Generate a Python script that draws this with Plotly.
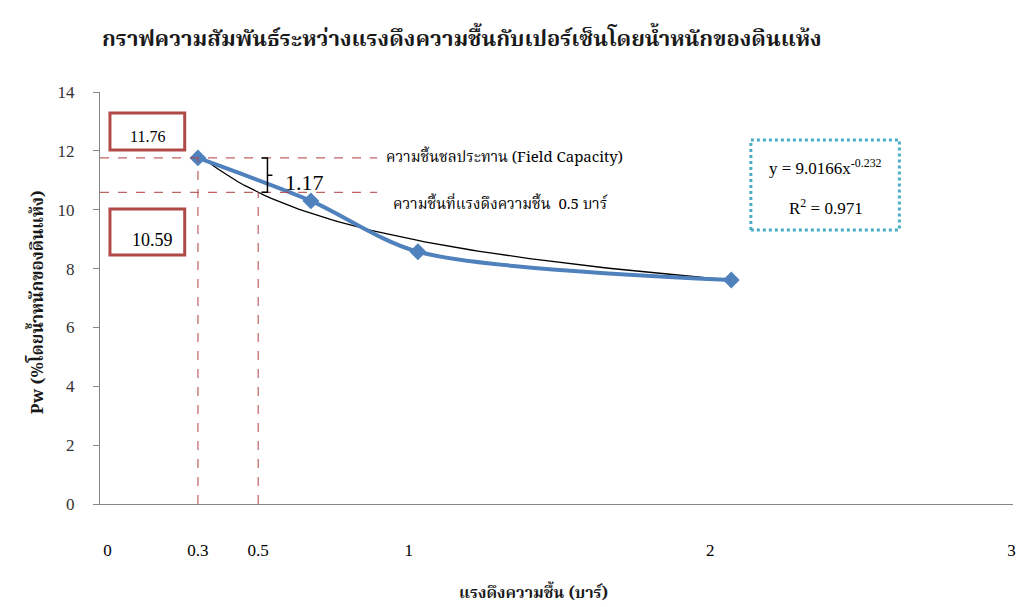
import plotly.graph_objects as go

# ---- data ----
suction_bar = [0.3, 0.675, 1.03, 2.07]
moisture_pw = [11.76, 10.30, 8.57, 7.61]
trend_a = 9.0166
trend_b = -0.232
r2 = 0.971
fc_value = 11.76
half_bar_value = 10.59
diff_value = 1.17
x_tickvals = [0, 0.3, 0.5, 1, 2, 3]
x_ticktext = ["0", "0.3", "0.5", "1", "2", "3"]
y_tickvals = [0, 2, 4, 6, 8, 10, 12, 14]

title = "กราฟความสัมพันธ์ระหว่างแรงดึงความชื้นกับเปอร์เซ็นโดยน้ำหนักของดินแห้ง"
x_title = "แรงดึงความชื้น (บาร์)"
y_title = "Pw (%โดยน้ำหนักของดินแห้ง)"
label_fc = "ความชื้นชลประทาน (Field Capacity)"
label_half = "ความชื้นที่แรงดึงความชื้น  0.5 บาร์"

# trendline from stated equation
tx = [suction_bar[0] + i * (suction_bar[-1] - suction_bar[0]) / 80 for i in range(81)]
ty = [trend_a * v ** trend_b for v in tx]

THAI_SERIF = "Noto Serif Thai, Liberation Serif, Noto Sans Thai, serif"
SERIF = "Liberation Serif, Times New Roman, serif"
RED = "rgba(180,70,70,0.85)"

fig = go.Figure()
fig.add_trace(go.Scatter(x=tx, y=ty, mode="lines",
                         line=dict(color="black", width=1.3), hoverinfo="skip"))
fig.add_trace(go.Scatter(x=suction_bar, y=moisture_pw, mode="lines+markers",
                         line=dict(color="#4f81bd", width=4, shape="spline", smoothing=0.8),
                         marker=dict(symbol="diamond", size=13, color="#4f81bd")))

# mapping helpers (pixel -> data) for annotation placement
XMIN, XMAX = -0.025, 3.005
X0PX = 100 - XMIN * (916 / (XMAX - XMIN))
XSC = 916 / (XMAX - XMIN)
Y0PX, YSC = 504.0, 412 / 14
def dx(p):
    return (p - X0PX) / XSC
def dy(p):
    return (Y0PX - p) / YSC

shapes = []
# dashed guide lines
shapes.append(dict(type="line", x0=XMIN, x1=dx(378), y0=fc_value, y1=fc_value,
                   line=dict(color=RED, width=1.2, dash="dash")))
shapes.append(dict(type="line", x0=XMIN, x1=dx(378), y0=half_bar_value, y1=half_bar_value,
                   line=dict(color=RED, width=1.2, dash="dash")))
shapes.append(dict(type="line", x0=0.3, x1=0.3, y0=0, y1=fc_value,
                   line=dict(color=RED, width=1.2, dash="dash")))
shapes.append(dict(type="line", x0=0.5, x1=0.5, y0=0, y1=half_bar_value,
                   line=dict(color=RED, width=1.2, dash="dash")))
# value boxes
shapes.append(dict(type="rect", x0=dx(110), x1=dx(185), y0=dy(150), y1=dy(113),
                   line=dict(color="#b04a48", width=3), fillcolor="white"))
shapes.append(dict(type="rect", x0=dx(110), x1=dx(185), y0=dy(255), y1=dy(209),
                   line=dict(color="#b04a48", width=3), fillcolor="white"))
# equation box
shapes.append(dict(type="rect", x0=dx(753), x1=dx(902), y0=dy(230), y1=dy(140),
                   line=dict(color="#4bacc6", width=3, dash="dot"), fillcolor="white"))
# bracket
xb1, xb2, xb3 = dx(262), dx(268), dx(273)
mid = (fc_value + half_bar_value) / 2
shapes.append(dict(type="path",
                   path=f"M {xb1} {fc_value} L {xb2} {fc_value} L {xb2} {half_bar_value} L {xb1} {half_bar_value} "
                        f"M {xb2} {mid} L {xb3} {mid}",
                   line=dict(color="black", width=1.5)))

ann = []
ann.append(dict(x=dx(148), y=dy(136), text=f"{fc_value:.2f}", showarrow=False,
                font=dict(family=SERIF, size=16, color="black")))
ann.append(dict(x=dx(153), y=dy(240), text=f"{half_bar_value:.2f}", showarrow=False,
                font=dict(family=SERIF, size=18, color="black")))
ann.append(dict(x=dx(284), y=dy(182), text=f"{diff_value:.2f}", showarrow=False, xanchor="left",
                font=dict(family=SERIF, size=22, color="black")))
ann.append(dict(x=dx(385), y=dy(158), text=label_fc, showarrow=False, xanchor="left",
                font=dict(family=THAI_SERIF, size=15, color="black")))
ann.append(dict(x=dx(392), y=dy(205), text=label_half, showarrow=False, xanchor="left",
                font=dict(family=THAI_SERIF, size=15, color="black")))
ann.append(dict(x=dx(828), y=dy(167), text=f"y = {trend_a}x<sup>{trend_b}</sup>", showarrow=False,
                font=dict(family=SERIF, size=17, color="black")))
ann.append(dict(x=dx(828), y=dy(207), text=f"R<sup>2</sup> = {r2}", showarrow=False,
                font=dict(family=SERIF, size=17, color="black")))
# titles
ann.append(dict(xref="paper", yref="paper", x=(463 - 100) / 916, y=1 + (92 - 40) / 412,
                xanchor="center", yanchor="middle",
                text=f"<b>{title}</b>", showarrow=False,
                font=dict(family=THAI_SERIF, size=22, color="#1a1a1a")))
ann.append(dict(xref="paper", yref="paper", x=(535 - 100) / 916, y=-(594 - 504) / 412,
                xanchor="center", yanchor="middle",
                text=f"<b>{x_title}</b>", showarrow=False,
                font=dict(family=THAI_SERIF, size=16, color="#1a1a1a")))
ann.append(dict(xref="paper", yref="paper", x=-(100 - 38) / 916, y=(504 - 302) / 412,
                xanchor="center", yanchor="middle",
                text=f"<b>{y_title}</b>", showarrow=False, textangle=-90,
                font=dict(family=THAI_SERIF, size=17, color="#1a1a1a")))

fig.update_layout(
    width=1016, height=607,
    margin=dict(l=100, r=0, t=92, b=103),
    paper_bgcolor="white", plot_bgcolor="white",
    showlegend=False,
    shapes=shapes, annotations=ann,
    xaxis=dict(range=[XMIN, XMAX], tickvals=x_tickvals, ticktext=x_ticktext,
               showgrid=False, zeroline=False, showline=True, linecolor="#868686", linewidth=1,
               ticks="", ticklabelstandoff=31, ticklabeloverflow="allow",
               tickfont=dict(family=SERIF, size=17, color="black")),
    yaxis=dict(range=[0, 14], tickvals=y_tickvals,
               showgrid=False, zeroline=False, showline=True, linecolor="#868686", linewidth=1,
               ticks="outside", ticklen=6, tickcolor="#868686", ticklabelstandoff=15,
               tickfont=dict(family=SERIF, size=17, color="#333333")),
)

fig.write_html("out.html")
